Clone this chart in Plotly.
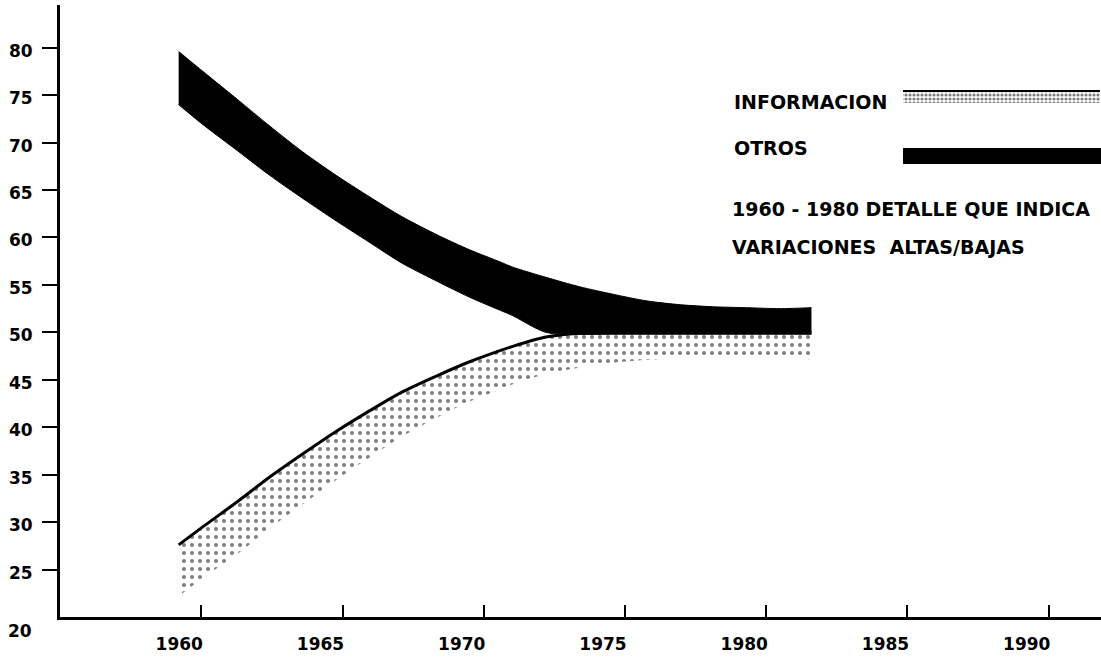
import plotly.graph_objects as go

# ---- data ----
years = [1959.2, 1960.1, 1961.3, 1962.4, 1963.6, 1964.8, 1966.0, 1967.1, 1968.4, 1969.5,
         1970.6, 1971.0, 1972.2, 1973.4, 1974.6, 1975.8, 1977.0, 1978.1, 1979.3, 1980.5, 1981.6]
otros_alta = [79.6, 77.4, 74.5, 71.8, 69.0, 66.5, 64.2, 62.2, 60.2, 58.7,
              57.4, 56.9, 55.8, 54.8, 54.0, 53.3, 52.9, 52.7, 52.6, 52.5, 52.6]
otros_baja = [74.0, 71.8, 69.1, 66.6, 64.1, 61.7, 59.4, 57.3, 55.3, 53.7,
              52.3, 51.8, 50.0, 49.8, 49.8, 49.8, 49.8, 49.8, 49.8, 49.8, 49.8]
info_alta = [27.6, 29.6, 32.2, 34.7, 37.2, 39.6, 41.8, 43.7, 45.5, 46.9,
             48.1, 48.5, 49.5, 49.9, 50.0, 50.0, 50.0, 50.0, 50.0, 50.0, 50.0]
info_baja = [22.2, 24.2, 26.7, 29.3, 31.9, 34.5, 36.9, 39.0, 41.1, 42.7,
             44.0, 44.5, 45.6, 46.3, 46.8, 47.1, 47.3, 47.4, 47.5, 47.6, 47.1]

x_ticks = [1960, 1965, 1970, 1975, 1980, 1985, 1990]
y_ticks = [25, 30, 35, 40, 45, 50, 55, 60, 65, 70, 75, 80]

labels = ["INFORMACION", "OTROS", "1960 - 1980 DETALLE QUE INDICA", "VARIACIONES  ALTAS/BAJAS"]

FONT = dict(family="DejaVu Sans", size=17, color="black", weight="bold")
LFONT = dict(family="DejaVu Sans", size=19, color="black", weight="bold")
STIPPLE = dict(shape=".", fgcolor="black", bgcolor="white", size=8, solidity=0.22)
SPL = dict(shape="spline", smoothing=0.8)

fig = go.Figure()

# INFORMACION band (stippled, heavy upper edge)
fig.add_trace(go.Scatter(x=years, y=info_baja, mode="lines",
                         line=dict(width=0, **SPL),
                         hoverinfo="skip", showlegend=False))
fig.add_trace(go.Scatter(x=years, y=info_alta, mode="lines", fill="tonexty",
                         fillcolor="white", fillpattern=STIPPLE,
                         line=dict(width=3, color="black", **SPL),
                         name=labels[0], showlegend=False))

# OTROS band (solid black)
fig.add_trace(go.Scatter(x=years, y=otros_baja, mode="lines",
                         line=dict(width=1, color="black", **SPL),
                         hoverinfo="skip", showlegend=False))
fig.add_trace(go.Scatter(x=years, y=otros_alta, mode="lines", fill="tonexty",
                         fillcolor="black",
                         line=dict(width=1, color="black", **SPL),
                         name=labels[1], showlegend=False))

# legend swatch for INFORMACION (stippled) on an overlay unit axis
fig.add_trace(go.Scatter(x=[0.8098, 0.999, 0.999, 0.8098, 0.8098],
                         y=[0.8399, 0.8399, 0.8595, 0.8595, 0.8399],
                         xaxis="x2", yaxis="y2", mode="lines", fill="toself",
                         fillcolor="white",
                         fillpattern=dict(shape=".", fgcolor="black", bgcolor="white",
                                          size=4, solidity=0.5),
                         line=dict(width=0), hoverinfo="skip", showlegend=False))

fig.update_layout(
    width=1101, height=657,
    margin=dict(l=60, r=0, t=5, b=40),
    plot_bgcolor="white", paper_bgcolor="white",
    showlegend=False,
    xaxis=dict(range=[1955.0, 1991.85], tickvals=x_ticks, ticktext=[str(v) for v in x_ticks],
               ticks="inside", ticklen=12, tickwidth=2, tickcolor="black",
               showline=True, linewidth=3, linecolor="black", automargin=False,
               showgrid=False, zeroline=False, tickfont=FONT,
               ticklabelshift=-22, ticklabelstandoff=10),
    yaxis=dict(range=[20, 84.5], tickvals=y_ticks, ticktext=[str(v) for v in y_ticks],
               ticks="outside", ticklen=15, tickwidth=2, tickcolor="black",
               showline=True, linewidth=3, linecolor="black", automargin=False,
               showgrid=False, zeroline=False, tickfont=FONT,
               ticklabelstandoff=6, ticklabelshift=3),
    xaxis2=dict(overlaying="x", range=[0, 1], visible=False, automargin=False),
    yaxis2=dict(overlaying="y", range=[0, 1], visible=False, automargin=False),
)

# legend swatch for OTROS and border line of INFORMACION swatch
fig.add_shape(type="rect", xref="paper", yref="paper", x0=0.8098, x1=1.0, y0=0.7402, y1=0.7663,
              fillcolor="black", line=dict(width=0))
fig.add_shape(type="line", xref="paper", yref="paper", x0=0.8098, x1=0.999, y0=0.8595, y1=0.8595,
              line=dict(width=2, color="black"))

# texts
fig.add_annotation(x=0.6455, y=0.8407, xref="paper", yref="paper", text=labels[0],
                   xanchor="left", yanchor="middle", showarrow=False, font=LFONT)
fig.add_annotation(x=0.6455, y=0.7663, xref="paper", yref="paper", text=labels[1],
                   xanchor="left", yanchor="middle", showarrow=False, font=LFONT)
fig.add_annotation(x=0.6436, y=0.6667, xref="paper", yref="paper", text=labels[2],
                   xanchor="left", yanchor="middle", showarrow=False, font=LFONT)
fig.add_annotation(x=0.6436, y=0.6046, xref="paper", yref="paper", text=labels[3],
                   xanchor="left", yanchor="middle", showarrow=False, font=LFONT)
fig.add_annotation(x=-0.025, y=-0.0229, xref="paper", yref="paper", text="20",
                   xanchor="right", yanchor="middle", showarrow=False, font=FONT)

fig.write_html(
    "out.html",
    config={"displayModeBar": False},
    post_script="document.body.style.margin='0';document.body.style.overflow='hidden';",
)
